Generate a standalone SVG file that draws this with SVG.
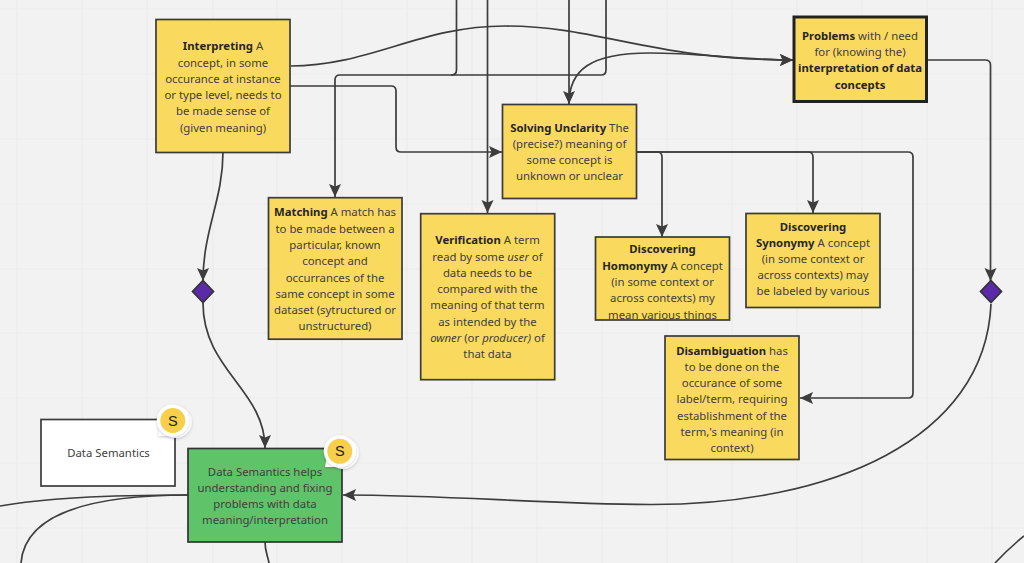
<svg xmlns="http://www.w3.org/2000/svg" width="1024" height="563" viewBox="0 0 1024 563">
<style>
text{font-family:"Noto Sans","Open Sans",sans-serif;font-size:11.35px;fill:#3f3f3f;text-anchor:middle}
.b{font-weight:700;fill:#262626}
.i{font-style:italic}
.y{fill:#fad95f;stroke:#3b3b3b;stroke-width:1.7}
.c{fill:none;stroke:#3d3d3d;stroke-width:1.7}
.a{marker-end:url(#arrow)}
.g{stroke:#ebebeb;stroke-width:1.2;fill:none}
.d{fill:#5b2aa8;stroke:#333;stroke-width:1.7}
.bo{fill:#f7cf4b}
.bw{fill:#fff;filter:url(#sh)}
.s{font-family:"Liberation Sans",sans-serif;font-size:14.500px;fill:#222}
</style>
<defs>
<marker id="arrow" markerUnits="userSpaceOnUse" markerWidth="16" markerHeight="16" refX="13" refY="7" orient="auto">
<path d="M0 1L13 7L0 13L2.500 7Z" fill="#3d3d3d"/>
</marker>
<filter id="sh" x="-30%" y="-30%" width="160%" height="160%"><feDropShadow dx="0" dy="1" stdDeviation="1.5" flood-color="#000" flood-opacity=".2"/></filter>
<clipPath id="hc"><rect x="596" y="238" width="133" height="81"/></clipPath>
</defs>
<rect width="1024" height="563" fill="#f2f2f2"/>
<path class="g" d="M17 0V563M82 0V563M147 0V563M213 0V563M277 0V563M342 0V563M407 0V563M472 0V563M537 0V563M602 0V563M667 0V563M732 0V563M797 0V563M862 0V563M927 0V563M992 0V563M0 9H1024M0 74H1024M0 139H1024M0 204H1024M0 269H1024M0 333H1024M0 398H1024M0 463H1024M0 528H1024"/>
<g id="connectors">
<path class="c a" d="M290.500 66C370 66 420 26 505 26C600 26 650 60 793 60"/>
<path class="c" d="M456.500 0V70Q456.500 75 451 75"/>
<path class="c a" d="M606 0V70Q606 75 601 75H340Q335 75 335 80V197"/>
<path class="c a" d="M487.500 0V213"/>
<path class="c a" d="M569 0V104"/>
<path class="c a" d="M569 104C569 70 590 53 650 53C700 53 740 60 793 60"/>
<path class="c a" d="M290 86H391Q396 86 396 91V147Q396 152 401 152H502"/>
<path class="c a" d="M636 152H657Q662 152 662 157V237"/>
<path class="c a" d="M636 152H808Q813 152 813 157V213"/>
<path class="c a" d="M636 152H908Q913 152 913 157V393Q913 398 908 398H800"/>
<path class="c a" d="M927 60H985Q990.500 60 990.500 65V281"/>
<path class="c a" d="M991 304C985 440 830 505 650 504.500C540 504 450 495 343 495"/>
<path class="c a" d="M223 152C223 200 203 230 203 281"/>
<path class="c a" d="M203 303C203 370 265 390 265 448"/>
<path class="c" d="M188 495C120 495 50 497 0 506"/>
<path class="c" d="M188 495C100 495 25 510 21 563"/>
<path class="c" d="M265 542C265 552 268 556 269 563"/>
<path class="c" d="M1024 536Q1008 549 995 563"/>
</g>
<g id="interpreting"><rect class="y" x="156" y="19.500" width="134" height="133"/>
<text x="223" y="50"><tspan class="b">Interpreting</tspan> A</text>
<text x="223" y="66.500">concept, in some</text>
<text x="223" y="82.500">occurance at instance</text>
<text x="223" y="99">or type level, needs to</text>
<text x="223" y="115">be made sense of</text>
<text x="223" y="131.500">(given meaning)</text></g>
<g id="problems"><rect class="y" x="794" y="17" width="132.500" height="84.500" style="stroke-width:3;stroke:#222"/>
<text x="860" y="39.500"><tspan class="b">Problems</tspan> with / need</text>
<text x="860" y="56">for (knowing the)</text>
<text x="860" y="72" class="b">interpretation of data</text>
<text x="860" y="88.500" class="b">concepts</text></g>
<g id="solving"><rect class="y" x="502.500" y="104.500" width="134" height="94"/>
<text x="569.500" y="131.500"><tspan class="b">Solving Unclarity</tspan> The</text>
<text x="569.500" y="148">(precise?) meaning of</text>
<text x="569.500" y="164">some concept is</text>
<text x="569.500" y="180">unknown or unclear</text></g>
<g id="matching"><rect class="y" x="268.500" y="197.700" width="133.500" height="141.500"/>
<text x="335" y="216.300"><tspan class="b">Matching</tspan> A match has</text>
<text x="335" y="232.500">to be made between a</text>
<text x="335" y="249">particular, known</text>
<text x="335" y="265">concept and</text>
<text x="335" y="281.500">occurrances of the</text>
<text x="335" y="297.500">same concept in some</text>
<text x="335" y="314">dataset (sytructured or</text>
<text x="335" y="330">unstructured)</text></g>
<g id="verification"><rect class="y" x="420.700" y="213.700" width="134" height="166"/>
<text x="487.500" y="244"><tspan class="b">Verification</tspan> A term</text>
<text x="487.500" y="260.500">read by some <tspan class="i">user</tspan> of</text>
<text x="487.500" y="277">data needs to be</text>
<text x="487.500" y="293">compared with the</text>
<text x="487.500" y="309">meaning of that term</text>
<text x="487.500" y="325.500">as intended by the</text>
<text x="487.500" y="342"><tspan class="i">owner</tspan> (or <tspan class="i">producer)</tspan> of</text>
<text x="487.500" y="358">that data</text></g>
<g id="homonymy"><rect class="y" x="595.500" y="237" width="134" height="83"/>
<g clip-path="url(#hc)">
<text x="662.500" y="253" class="b">Discovering</text>
<text x="662.500" y="269.500"><tspan class="b">Homonymy</tspan> A concept</text>
<text x="662.500" y="286">(in some context or</text>
<text x="662.500" y="302">across contexts) my</text>
<text x="662.500" y="318.500">mean various things</text></g></g>
<g id="synonymy"><rect class="y" x="746" y="213.500" width="134" height="94"/>
<text x="813" y="230.500" class="b">Discovering</text>
<text x="813" y="247">
<tspan class="b">Synonymy</tspan> A concept</text>
<text x="813" y="263">(in some context or</text>
<text x="813" y="279">across contexts) may</text>
<text x="813" y="295">be labeled by various</text></g>
<g id="disambiguation"><rect class="y" x="665" y="336" width="134" height="123.500"/>
<text x="732" y="354.500"><tspan class="b">Disambiguation</tspan> has</text>
<text x="732" y="371">to be done on the</text>
<text x="732" y="387">occurance of some</text>
<text x="732" y="403">label/term, requiring</text>
<text x="732" y="419.500">establishment of the</text>
<text x="732" y="435.500">term,'s meaning (in</text>
<text x="732" y="452">context)</text></g>
<g id="data-semantics"><rect x="41" y="419.500" width="134" height="66.500" fill="#fff" stroke="#3b3b3b" stroke-width="1.7"/>
<text x="108.500" y="457">Data Semantics</text></g>
<g id="data-semantics-helps"><rect x="188" y="448.500" width="154" height="93.500" fill="#5fc36a" stroke="#333" stroke-width="1.7"/>
<text x="265" y="475.500">Data Semantics helps</text>
<text x="265" y="492">understanding and fixing</text>
<text x="265" y="508">problems with data</text>
<text x="265" y="524">meaning/interpretation</text></g>
<g id="diamond-left"><path class="d" d="M203 280.500L213.500 291.500L203 302.500L192.500 291.500Z"/></g>
<g id="diamond-right"><path class="d" d="M991 280.500L1001.500 291.500L991 302.500L980.500 291.500Z"/></g>
<g id="badge-1"><path class="bw" d="M158 436L160 425A16 16 0 1 1 168 436Z"/><circle class="bw" cx="172.800" cy="420.500" r="16"/><circle class="bo" cx="172.800" cy="420.500" r="12.500"/><text class="s" x="172.800" y="425.500">S</text></g>
<g id="badge-2"><path class="bw" d="M325 467L327 456A16 16 0 1 1 335 467Z"/><circle class="bw" cx="339.800" cy="451.300" r="16"/><circle class="bo" cx="339.800" cy="451.300" r="12.500"/><text class="s" x="339.800" y="456.300">S</text></g>
</svg>
